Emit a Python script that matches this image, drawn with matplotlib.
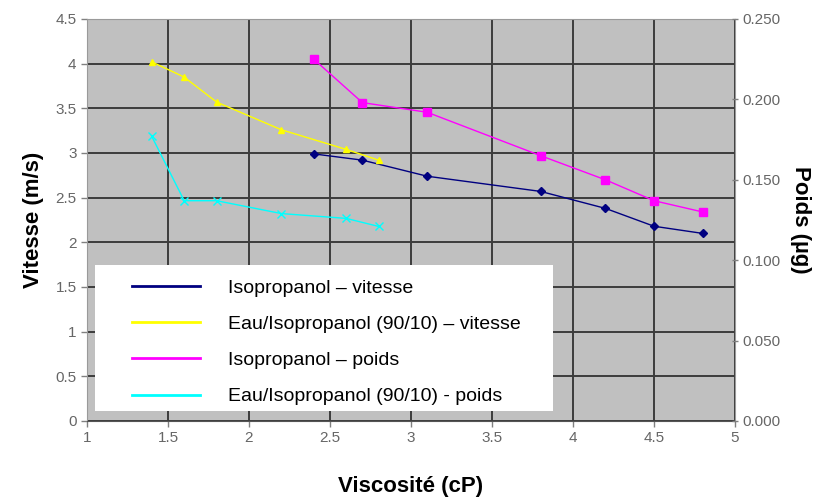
import numpy as np
import matplotlib
matplotlib.use("Agg")
import matplotlib.pyplot as plt
from matplotlib.patches import Rectangle

plt.rcParams['font.family'] = ['Liberation Sans', 'DejaVu Sans']

# viscosity (cP) and speed (m/s) - left axis
x_iso_v = [2.4, 2.7, 3.1, 3.8, 4.2, 4.5, 4.8]
y_iso_v = [2.99, 2.92, 2.74, 2.57, 2.38, 2.18, 2.10]

x_eau_v = [1.4, 1.6, 1.8, 2.2, 2.6, 2.8]
y_eau_v = [4.02, 3.85, 3.57, 3.26, 3.04, 2.92]

# weight (µg) - right axis
x_iso_p = [2.4, 2.7, 3.1, 3.8, 4.2, 4.5, 4.8]
y_iso_p = [0.225, 0.198, 0.192, 0.165, 0.150, 0.137, 0.130]

x_eau_p = [1.4, 1.6, 1.8, 2.2, 2.6, 2.8]
y_eau_p = [0.177, 0.137, 0.137, 0.129, 0.126, 0.121]

labels = ['Isopropanol \u2013 vitesse',
          'Eau/Isopropanol (90/10) \u2013 vitesse',
          'Isopropanol \u2013 poids',
          'Eau/Isopropanol (90/10) - poids']

fig = plt.figure(figsize=(8.33, 5), dpi=100)
ax = fig.add_axes([0.1044, 0.158, 0.7780, 0.804])
ax.set_facecolor('#c0c0c0')

l1, = ax.plot(x_iso_v, y_iso_v, color='#000080', marker='D', ms=4.5, lw=1, label=labels[0])
l2, = ax.plot(x_eau_v, y_eau_v, color='#ffff00', marker='^', ms=5, lw=1, label=labels[1])

ax.set_xlim(1, 5)
ax.set_ylim(0, 4.5)
ax.set_xticks(np.arange(1, 5.01, 0.5))
ax.set_yticks(np.arange(0, 4.51, 0.5))
ax.set_xticklabels(['%g' % v for v in np.arange(1, 5.01, 0.5)])
ax.set_yticklabels(['%g' % v for v in np.arange(0, 4.51, 0.5)])
ax.grid(True, color='#3c3c3c', lw=1.4)
ax.set_axisbelow(True)
ax.yaxis.get_gridlines()[-1].set_visible(False)
ax.tick_params(colors='#808080', labelcolor='#666666', labelsize=11, length=4, width=1)
for s in ['left', 'bottom', 'right', 'top']:
    ax.spines[s].set_color('#9a9a9a')
ax.spines['bottom'].set_color('#555555')

ax.set_xlabel('Viscosité (cP)', fontsize=16, fontweight='bold', labelpad=22)
ax.set_ylabel('Vitesse (m/s)', fontsize=16, fontweight='bold', labelpad=8)

ax2 = ax.twinx()
l3, = ax2.plot(x_iso_p, y_iso_p, color='#ff00ff', marker='s', ms=6, lw=1, label=labels[2])
l4, = ax2.plot(x_eau_p, y_eau_p, color='#00ffff', marker='x', ms=6, mew=1, lw=1, label=labels[3])
ax2.set_ylim(0, 0.25)
ax2.set_yticks(np.arange(0, 0.251, 0.05))
ax2.set_yticklabels(['%.3f' % v for v in np.arange(0, 0.251, 0.05)])
ax2.tick_params(colors='#808080', labelcolor='#666666', labelsize=11, length=4, direction='inout', width=1)
for s in ['left', 'bottom', 'right', 'top']:
    ax2.spines[s].set_visible(False)
ax2.set_ylabel('Poids (µg)', fontsize=16, fontweight='bold', rotation=270, labelpad=22)

# white legend box
ax2.add_patch(Rectangle((0.012, 0.025), 0.707, 0.363, transform=ax2.transAxes,
                        facecolor='white', edgecolor='none', zorder=5))
leg = ax2.legend([l1, l2, l3, l4], labels, loc='upper left',
                 bbox_to_anchor=(0.07, 0.352), frameon=False,
                 fontsize=14, handlelength=3.5, handletextpad=1.4, labelspacing=0.95,
                 borderpad=0, borderaxespad=0)
leg.set_zorder(6)
for h in leg.legend_handles:
    h.set_marker('')
    h.set_linewidth(2)

plt.savefig('out.png', dpi=100)
